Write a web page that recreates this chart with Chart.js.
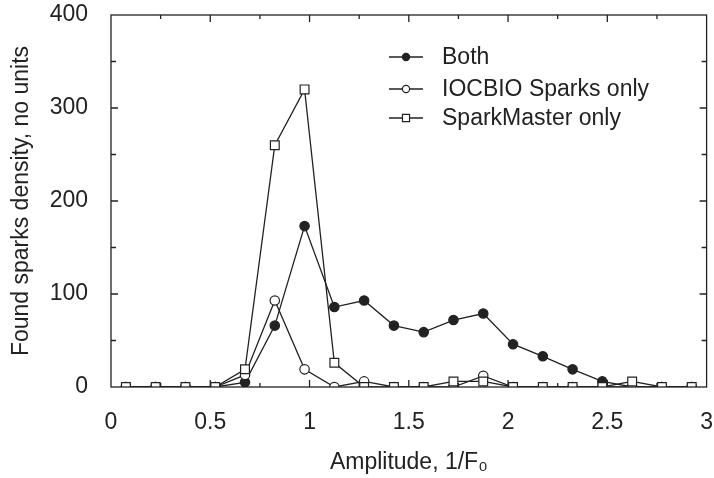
<!DOCTYPE html>
<html>
<head>
<meta charset="utf-8">
<script src="https://cdn.jsdelivr.net/npm/chart.js@4"></script>
<style>
  html, body { margin: 0; padding: 0; background: #fff; }
  #wrap { width: 714px; height: 478px; }
</style>
</head>
<body>
<div id="wrap"><canvas id="sparkChart" width="714" height="478"></canvas></div>
<script>
// データ
const amplitudes = [0.075, 0.225, 0.375, 0.525, 0.675, 0.825, 0.975, 1.125, 1.275, 1.425,
                    1.575, 1.725, 1.875, 2.025, 2.175, 2.325, 2.475, 2.625, 2.775, 2.925];
const bothValues = [0, 0, 0, 0, 5, 66, 173, 86, 93, 66, 59, 72, 79, 46, 33, 19, 6, 0, 0, 0];
const iocbioValues = [0, 0, 0, 0, 13, 93, 19, 0, 6, 0, 0, 0, 12, 0, 0, 0, 0, 0, 0, 0];
const sparkMasterValues = [0, 0, 0, 0, 19, 260, 320, 26, 0, 0, 0, 6, 6, 0, 0, 0, 0, 6, 0, 0];
const seriesNames = ['Both', 'IOCBIO Sparks only', 'SparkMaster only'];
const xTickValues = [0, 0.5, 1, 1.5, 2, 2.5, 3];
const yTickValues = [0, 100, 200, 300, 400];

const FONT = '"Liberation Sans", Arial, sans-serif';
const INK = '#222';

function toPoints(values) {
    return values.map((v, i) => ({ x: amplitudes[i], y: v }));
}

// 枠と内向きの目盛り
const frameTicks = {
    id: 'frameTicks',
    afterDraw(chart) {
        const ctx = chart.ctx;
        const a = chart.chartArea;
        const xs = chart.scales.x;
        const ys = chart.scales.y;
        ctx.save();
        ctx.strokeStyle = INK;
        ctx.lineWidth = 1.3;
        ctx.strokeRect(a.left, a.top, a.right - a.left, a.bottom - a.top);
        ctx.beginPath();
        for (let v = 0.25; v < 3; v += 0.25) {
            const px = xs.getPixelForValue(v);
            const len = Math.abs(v * 2 - Math.round(v * 2)) < 1e-6 ? 7 : 4;
            ctx.moveTo(px, a.bottom); ctx.lineTo(px, a.bottom - len);
            ctx.moveTo(px, a.top); ctx.lineTo(px, a.top + len);
        }
        for (let v = 50; v < 400; v += 50) {
            const py = ys.getPixelForValue(v);
            const len = v % 100 === 0 ? 7 : 5;
            ctx.moveTo(a.left, py); ctx.lineTo(a.left + len, py);
            ctx.moveTo(a.right, py); ctx.lineTo(a.right - len, py);
        }
        ctx.stroke();
        ctx.restore();
    }
};

// 凡例（線＋マーカー）
const insideLegend = {
    id: 'insideLegend',
    afterDatasetsDraw(chart) {
        const ctx = chart.ctx;
        const rows = [57, 89, 118];
        ctx.save();
        ctx.font = '23px ' + FONT;
        ctx.textBaseline = 'middle';
        ctx.textAlign = 'left';
        chart.data.datasets.forEach((ds) => {
            const y = rows[ds.legendRow];
            ctx.strokeStyle = INK;
            ctx.lineWidth = 1.3;
            ctx.beginPath();
            ctx.moveTo(389, y); ctx.lineTo(423, y);
            ctx.stroke();
            ctx.fillStyle = ds.pointBackgroundColor;
            ctx.strokeStyle = INK;
            ctx.lineWidth = 1.2;
            Chart.helpers.drawPoint(ctx, {
                pointStyle: ds.pointStyle,
                radius: ds.pointStyle === 'rect' ? 5 : 3.6,
                rotation: 0,
                borderWidth: 1.2
            }, 406, y);
            ctx.fillStyle = INK;
            ctx.fillText(ds.label, 442, y + 1);
        });
        ctx.restore();
    }
};

function makeDataset(label, values, style, fill, row, order) {
    return {
        label: label,
        data: toPoints(values),
        showLine: true,
        borderColor: INK,
        borderWidth: 1.3,
        pointStyle: style,
        pointRadius: style === 'rect' ? 6.2 : 4.7,
        pointBackgroundColor: fill,
        pointBorderColor: INK,
        pointBorderWidth: 1.2,
        tension: 0,
        legendRow: row,
        order: order
    };
}

new Chart(document.getElementById('sparkChart'), {
    type: 'scatter',
    data: {
        datasets: [
            makeDataset(seriesNames[0], bothValues, 'circle', INK, 0, 3),
            makeDataset(seriesNames[1], iocbioValues, 'circle', '#fff', 1, 2),
            makeDataset(seriesNames[2], sparkMasterValues, 'rect', '#fff', 2, 1)
        ]
    },
    options: {
        responsive: false,
        animation: false,
        events: [],
        layout: { padding: { top: 15, right: 7, left: 0, bottom: 0 } },
        plugins: {
            legend: { display: false },
            tooltip: { enabled: false }
        },
        scales: {
            x: {
                type: 'linear',
                min: 0,
                max: 3,
                afterBuildTicks: (s) => { s.ticks = xTickValues.map(v => ({ value: v })); },
                afterFit: (s) => { s.height = 91; s.paddingLeft = 0; s.paddingRight = 0; },
                grid: { display: false, drawTicks: false },
                border: { display: false },
                ticks: {
                    padding: 22,
                    color: INK,
                    font: { family: FONT, size: 23 },
                    maxRotation: 0,
                    callback: (v) => String(v)
                },
                title: {
                    display: true,
                    text: 'Amplitude, 1/F\u2080',
                    color: INK,
                    font: { family: FONT, size: 23 },
                    padding: { top: 0, bottom: 2 }
                }
            },
            y: {
                type: 'linear',
                min: 0,
                max: 400,
                afterBuildTicks: (s) => { s.ticks = yTickValues.map(v => ({ value: v })); },
                afterFit: (s) => { s.width = 111; s.paddingTop = 0; s.paddingBottom = 0; },
                grid: { display: false, drawTicks: false },
                border: { display: false },
                ticks: {
                    padding: 23,
                    color: INK,
                    font: { family: FONT, size: 23 },
                    callback: (v) => String(v)
                },
                title: {
                    display: true,
                    text: 'Found sparks density, no units',
                    color: INK,
                    font: { family: FONT, size: 23 },
                    padding: { top: 8, bottom: 0 }
                }
            }
        }
    },
    plugins: [frameTicks, insideLegend]
});
</script>
</body>
</html>
